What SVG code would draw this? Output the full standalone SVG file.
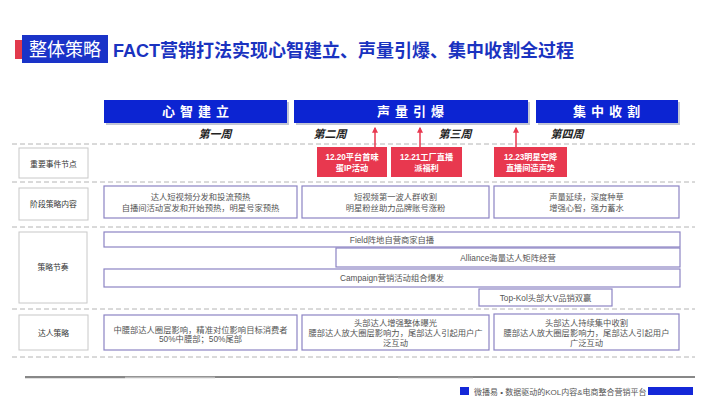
<svg xmlns="http://www.w3.org/2000/svg" width="720" height="405" viewBox="0 0 720 405">
<defs>
<style>
text{font-family:"Liberation Sans","Noto Sans CJK SC",sans-serif;}
.dash{stroke:#b4b4b4;stroke-width:1;stroke-dasharray:5 3;fill:none;}
.hdr{fill:#0c24d2;}
.hdrs{fill:#9aa0b8;opacity:0.6;}
.hdrt{fill:#fff;font-size:13px;font-weight:bold;letter-spacing:5px;text-anchor:middle;}
.wk{fill:#222;font-size:11px;font-weight:bold;font-style:italic;text-anchor:middle;}
.lbl{fill:#fff;stroke:#c8c8c8;stroke-width:1;}
.lblt{fill:#333;font-size:7.8px;text-anchor:middle;}
.box{fill:#fff;stroke:#8c84c4;stroke-width:1.2;}
.bt{fill:#555;font-size:8.3px;text-anchor:middle;}
.ev{fill:#e8384f;}
.evt{fill:#fff;font-size:8.2px;font-weight:bold;text-anchor:middle;}
.arr{stroke:#e8384f;stroke-width:1.5;fill:none;}
</style>
<marker id="ah" viewBox="0 0 10 10" refX="8" refY="5" markerWidth="6" markerHeight="6" orient="auto" markerUnits="userSpaceOnUse">
<path d="M0,0 L10,5 L0,10 Z" fill="#e8384f"/>
</marker>
</defs>
<rect width="720" height="405" fill="#fff"/>

<g id="title">
<rect x="15" y="40" width="7" height="19" fill="#e23a4c"/>
<rect x="22" y="35" width="86" height="28" fill="#1a33c8"/>
<text x="65" y="56" fill="#fff" font-size="18" text-anchor="middle">整体策略</text>
<text x="113" y="57" fill="#1a33c0" font-size="18" font-weight="bold">FACT营销打法实现心智建立、声量引爆、集中收割全过程</text>
</g>

<g id="phase-headers">
<rect class="hdrs" x="106" y="102" width="183" height="23"/>
<rect class="hdr" x="104" y="100" width="183" height="23"/>
<text class="hdrt" x="198" y="116">心智建立</text>
<rect class="hdrs" x="296" y="102" width="234" height="23"/>
<rect class="hdr" x="294" y="100" width="234" height="23"/>
<text class="hdrt" x="413" y="116">声量引爆</text>
<rect class="hdrs" x="538" y="102" width="142" height="23"/>
<rect class="hdr" x="536" y="100" width="142" height="23"/>
<text class="hdrt" x="609" y="116">集中收割</text>
</g>

<g id="weeks">
<text class="wk" x="215" y="138">第一周</text>
<text class="wk" x="330" y="138">第二周</text>
<text class="wk" x="455" y="138">第三周</text>
<text class="wk" x="567" y="138">第四周</text>
</g>

<g id="grid">
<line class="dash" x1="12" y1="144" x2="695" y2="144"/>
<line class="dash" x1="12" y1="182" x2="695" y2="182"/>
<line class="dash" x1="12" y1="227" x2="695" y2="227"/>
<line class="dash" x1="12" y1="309" x2="695" y2="309"/>
<line class="dash" x1="12" y1="357" x2="695" y2="357"/>
</g>

<g id="row-labels">
<rect class="lbl" x="19" y="148" width="69" height="30"/>
<text class="lblt" x="53.5" y="166.5">重要事件节点</text>
<rect class="lbl" x="19" y="188" width="69" height="32"/>
<text class="lblt" x="53.5" y="207">阶段策略内容</text>
<rect class="lbl" x="19" y="232" width="68" height="71"/>
<text class="lblt" x="53" y="270">策略节奏</text>
<rect class="lbl" x="19" y="315" width="69" height="35"/>
<text class="lblt" x="53.5" y="335.5">达人策略</text>
</g>

<g id="connectors">
<line class="arr" x1="375" y1="147" x2="375" y2="128" marker-end="url(#ah)"/>
<line class="arr" x1="420" y1="147" x2="420" y2="128" marker-end="url(#ah)"/>
<line class="arr" x1="516" y1="147" x2="516" y2="128" marker-end="url(#ah)"/>
</g>

<g id="event1">
<rect class="ev" x="317" y="147" width="70" height="30"/>
<text class="evt" x="352" y="160">12.20平台首味</text>
<text class="evt" x="352" y="170.5">蛋IP活动</text>
</g>
<g id="event2">
<rect class="ev" x="391" y="147" width="71" height="30"/>
<text class="evt" x="426.5" y="160">12.21工厂直播</text>
<text class="evt" x="426.5" y="170.5">派福利</text>
</g>
<g id="event3">
<rect class="ev" x="494" y="147" width="73" height="30"/>
<text class="evt" x="530.5" y="160">12.23明星空降</text>
<text class="evt" x="530.5" y="170.5">直播间造声势</text>
</g>

<g id="stage1">
<rect class="box" x="104" y="186" width="193" height="32"/>
<text class="bt" x="200.5" y="200">达人短视频分发和投流预热</text>
<text class="bt" x="200.5" y="210.5">自播间活动宣发和开始预热，明星号家预热</text>
</g>
<g id="stage2">
<rect class="box" x="302" y="186" width="187" height="32"/>
<text class="bt" x="395.5" y="200">短视频第一波人群收割</text>
<text class="bt" x="395.5" y="210.5">明星粉丝助力品牌账号涨粉</text>
</g>
<g id="stage3">
<rect class="box" x="494" y="186" width="185" height="32"/>
<text class="bt" x="586.5" y="200">声量延续，深度种草</text>
<text class="bt" x="586.5" y="210.5">增强心智，强力蓄水</text>
</g>

<g id="rhythm-field">
<rect class="box" x="104" y="232" width="576" height="15"/>
<text class="bt" x="392" y="242.5">Field阵地自营商家自播</text>
</g>
<g id="rhythm-alliance">
<rect class="box" x="336" y="248" width="344" height="19"/>
<text class="bt" x="508" y="260.5">Alliance海量达人矩阵经营</text>
</g>
<g id="rhythm-campaign">
<rect class="box" x="104" y="269" width="576" height="18"/>
<text class="bt" x="392" y="281">Campaign营销活动组合爆发</text>
</g>
<g id="rhythm-topkol">
<rect class="box" x="479" y="289" width="133" height="17"/>
<text class="bt" x="545.5" y="300.5">Top-Kol头部大V品销双赢</text>
</g>

<g id="talent1">
<rect class="box" x="104" y="315" width="193" height="35"/>
<text class="bt" x="200.5" y="332.5">中腰部达人圈层影响，精准对位影响目标消费者</text>
<text class="bt" x="200.5" y="342">50%中腰部；50%尾部</text>
</g>
<g id="talent2">
<rect class="box" x="302" y="315" width="187" height="35"/>
<text class="bt" x="395.5" y="325.5">头部达人增强整体曝光</text>
<text class="bt" x="395.5" y="335.5">腰部达人放大圈层影响力，尾部达人引起用户广</text>
<text class="bt" x="395.5" y="346">泛互动</text>
</g>
<g id="talent3">
<rect class="box" x="494" y="314" width="185" height="36"/>
<text class="bt" x="586.5" y="325.5">头部达人持续集中收割</text>
<text class="bt" x="586.5" y="335.5">腰部达人放大圈层影响力，尾部达人引起用户</text>
<text class="bt" x="586.5" y="346">广泛互动</text>
</g>

<g id="footer">
<line x1="25" y1="377" x2="695" y2="377" stroke="#111" stroke-width="1"/>
<line x1="25" y1="377.5" x2="125" y2="377.5" stroke="#888" stroke-width="1.5"/>
<line x1="125" y1="377.5" x2="215" y2="377.5" stroke="#bbb" stroke-width="1.5"/>
<line x1="398" y1="377.5" x2="473" y2="377.5" stroke="#999" stroke-width="1.5"/>
<rect x="460" y="387" width="9" height="8" fill="#1428d8"/>
<text x="474" y="394.5" fill="#555" font-size="8">微播易 • 数据驱动的KOL内容&amp;电商整合营销平台</text>
<rect x="648" y="387" width="45" height="8" fill="#1428d8"/>
</g>
</svg>
